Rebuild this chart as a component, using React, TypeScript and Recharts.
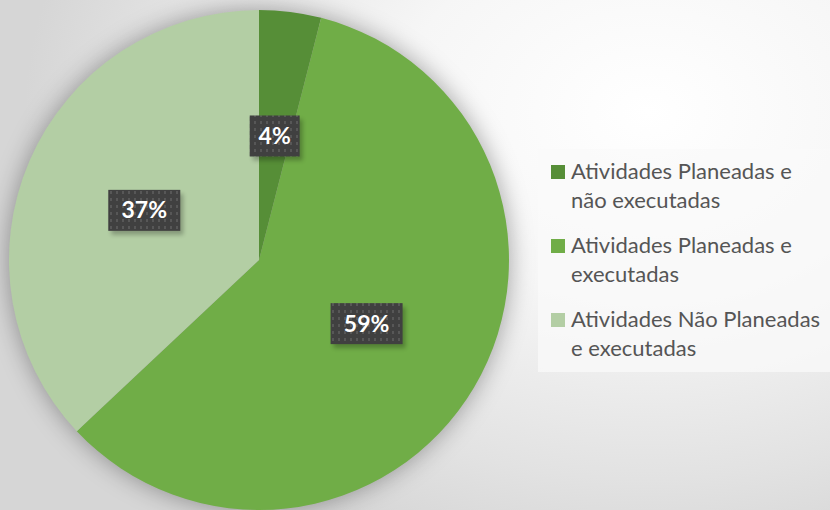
import { PieChart, Pie, Cell, Legend } from 'recharts';

const categories = [
  ['Atividades Planeadas e', 'não executadas'],
  ['Atividades Planeadas e', 'executadas'],
  ['Atividades Não Planeadas', 'e executadas'],
];
const values = [4, 59, 37];
const colors = ['#568E37', '#70AD47', '#B3CEA4'];

const data = categories.map((lines, i) => ({ name: lines.join(' '), lines, value: values[i] }));

const RAD = Math.PI / 180;

const renderLabel = (props: any) => {
  const { cx, cy, midAngle, outerRadius, percent } = props;
  const r = outerRadius * 0.5;
  const x = cx + r * Math.cos(-midAngle * RAD);
  const y = cy + r * Math.sin(-midAngle * RAD);
  const text = `${Math.round(percent * 100)}%`;
  const w = text.length > 2 ? 72 : 50;
  const h = 41;
  return (
    <g>
      <rect x={x - w / 2 + 3} y={y - h / 2 + 4} width={w} height={h} fill="#000" opacity={0.25} filter="url(#lblShadow)" />
      <rect x={x - w / 2} y={y - h / 2} width={w} height={h} fill="url(#dots)" />
      <text x={x} y={y} dy={8} textAnchor="middle" fill="#fff" fontSize={23} fontWeight="bold" fontFamily="Lato, sans-serif">
        {text}
      </text>
    </g>
  );
};

const renderLegend = () => (
  <div style={{ width: '100%', height: '100%', background: 'rgba(250,250,250,0.75)', boxSizing: 'border-box', paddingTop: 8 }}>
    {data.map((d, i) => (
      <div key={d.name} style={{ position: 'relative', height: 74 }}>
        <div style={{ position: 'absolute', left: 13, top: 8, width: 14, height: 14, background: colors[i] }} />
        {d.lines.map((ln, j) => (
          <div
            key={j}
            style={{
              position: 'absolute',
              left: 33,
              top: j * 28.5,
              fontFamily: 'Lato, sans-serif',
              fontSize: 22,
              lineHeight: '28px',
              color: '#555555',
              whiteSpace: 'nowrap',
            }}
          >
            {ln}
          </div>
        ))}
      </div>
    ))}
  </div>
);

export default function App() {
  return (
    <div
      style={{
        position: 'absolute',
        left: 0,
        top: 0,
        width: 830,
        height: 510,
        overflow: 'hidden',
        background: 'radial-gradient(ellipse 75% 90% at 78% 22%, #ffffff 0%, #f6f6f6 40%, #e2e2e2 80%, #d6d6d6 100%)',
      }}
    >
      <style>{`.recharts-pie { filter: drop-shadow(0px 0px 12px rgba(0,0,0,0.35)); }`}</style>
      <PieChart width={830} height={510} margin={{ top: 0, right: 0, bottom: 0, left: 0 }}>
        <defs>
          <pattern id="dots" width="6" height="7" patternUnits="userSpaceOnUse">
            <rect width="6" height="7" fill="#404040" />
            <rect x="2" y="2" width="2" height="3" fill="#575757" />
          </pattern>
          <filter id="lblShadow" x="-20%" y="-20%" width="140%" height="140%">
            <feGaussianBlur stdDeviation="2" />
          </filter>
        </defs>
        <Pie
          data={data}
          dataKey="value"
          nameKey="name"
          cx={259}
          cy={260}
          outerRadius={250}
          startAngle={90}
          endAngle={-270}
          stroke="none"
          label={renderLabel}
          labelLine={false}
          isAnimationActive={false}
        >
          {data.map((d, i) => (
            <Cell key={d.name} fill={colors[i]} />
          ))}
        </Pie>
        <Legend
          content={renderLegend}
          wrapperStyle={{ position: 'absolute', left: 538, top: 149, width: 292, height: 223 }}
        />
      </PieChart>
    </div>
  );
}
